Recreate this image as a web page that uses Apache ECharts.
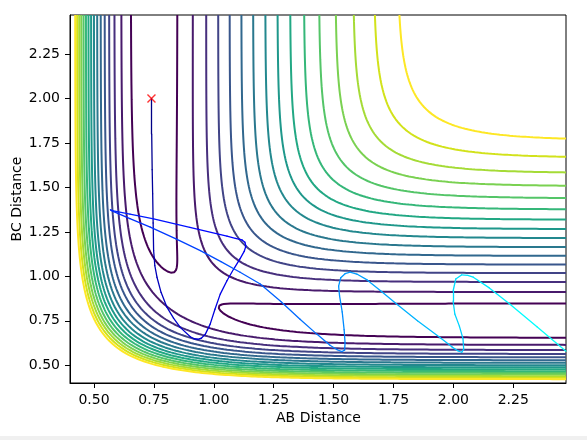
<!DOCTYPE html>
<html>
<head>
<meta charset="utf-8">
<script src="https://cdn.jsdelivr.net/npm/echarts/dist/echarts.min.js"></script>
<style>
html, body { margin: 0; padding: 0; background: #fff; }
#chart { width: 587px; height: 440px; }
</style>
</head>
<body>
<div id="chart"></div>
<script>
var DE = 4.746, BETA = 1.942, RE = 0.742, SATO = 0.19;
var AXIS_MIN = 0.4, AXIS_MAX = 2.47;
var GRID_STEPS = 300;
var X_TICKS = [0.5, 0.75, 1.0, 1.25, 1.5, 1.75, 2.0, 2.25];
var Y_TICKS = [0.5, 0.75, 1.0, 1.25, 1.5, 1.75, 2.0, 2.25];
var LEVELS = [-4.580, -4.367, -4.144, -3.926, -3.709, -3.484, -3.260, -3.032,
	-2.812, -2.593, -2.366, -2.136, -1.905, -1.679, -1.444, -1.210];
var LEVEL_COLORS = ['#440154', '#481a6c', '#472f7d', '#414487', '#39568c', '#31688e', '#2a788e', '#23888e',
	'#1f988b', '#22a884', '#35b779', '#54c568', '#7ad151', '#a5db36', '#d2e21b', '#fde725'];

// trajectory, AB and BC distances
var TRAJ_AB = [0.740, 0.741, 0.743, 0.745, 0.747, 0.749, 0.754, 0.763, 0.780, 0.805, 0.832, 0.860, 0.902, 0.918, 0.932,
	0.948, 0.965, 0.985, 1.005, 1.027, 1.055, 1.083, 1.110, 1.127, 1.134, 1.130, 1.118, 1.090, 1.055, 0.900,
	0.749, 0.650, 0.576, 0.569, 0.580, 0.650, 0.735, 0.840, 0.944, 1.030, 1.110, 1.194, 1.280, 1.360, 1.430,
	1.485, 1.515, 1.535, 1.546, 1.548, 1.544, 1.536, 1.525, 1.521, 1.530, 1.548, 1.569, 1.597, 1.640, 1.700,
	1.763, 1.850, 1.944, 1.995, 2.020, 2.035, 2.043, 2.040, 2.025, 2.006, 1.999, 1.999, 2.010, 2.034, 2.060,
	2.083, 2.150, 2.235, 2.350, 2.470];
var TRAJ_BC = [2.000, 1.800, 1.600, 1.464, 1.300, 1.145, 1.060, 0.995, 0.910, 0.825, 0.765, 0.713, 0.660, 0.649, 0.646,
	0.652, 0.675, 0.731, 0.815, 0.900, 0.975, 1.041, 1.100, 1.140, 1.170, 1.192, 1.205, 1.214, 1.226, 1.275,
	1.323, 1.350, 1.370, 1.374, 1.365, 1.325, 1.277, 1.212, 1.145, 1.083, 1.023, 0.957, 0.858, 0.759, 0.675,
	0.612, 0.587, 0.577, 0.585, 0.625, 0.700, 0.800, 0.890, 0.945, 0.992, 1.015, 1.023, 1.013, 0.980, 0.915,
	0.844, 0.750, 0.656, 0.602, 0.580, 0.573, 0.590, 0.650, 0.720, 0.788, 0.860, 0.919, 0.985, 1.008, 1.005,
	0.995, 0.935, 0.844, 0.715, 0.579];
var START_POINT = [0.74, 2.0];

function coulombExchange(r) {
	var e1 = Math.exp(-BETA * (r - RE)), e2 = e1 * e1;
	var q = DE / 4 * ((3 + SATO) * e2 - (2 + 6 * SATO) * e1);
	var j = DE / 4 * ((1 + 3 * SATO) * e2 - (6 + 2 * SATO) * e1);
	return [q, j];
}

function leps(rAB, rBC) {
	var a = coulombExchange(rAB), b = coulombExchange(rBC), c = coulombExchange(rAB + rBC);
	var jj = 0.5 * ((a[1] - b[1]) * (a[1] - b[1]) + (b[1] - c[1]) * (b[1] - c[1]) + (c[1] - a[1]) * (c[1] - a[1]));
	return (a[0] + b[0] + c[0] - Math.sqrt(jj)) / (1 + SATO);
}

/** marching squares, returns a list of polylines for one level */
function contourLines(pXs, pYs, pValues, pLevel) {
	var points = {};
	var segments = [];
	var edgePoint = function (key, x1, y1, v1, x2, y2, v2) {
		if (!points[key]) {
			var t = (pLevel - v1) / (v2 - v1);
			points[key] = [x1 + t * (x2 - x1), y1 + t * (y2 - y1)];
		}
		return key;
	};
	for (var j = 0; j < pYs.length - 1; j++) {
		for (var i = 0; i < pXs.length - 1; i++) {
			var v00 = pValues[j][i], v10 = pValues[j][i + 1], v11 = pValues[j + 1][i + 1], v01 = pValues[j + 1][i];
			var c = (v00 > pLevel ? 1 : 0) | (v10 > pLevel ? 2 : 0) | (v11 > pLevel ? 4 : 0) | (v01 > pLevel ? 8 : 0);
			if (c === 0 || c === 15) continue;
			var x0 = pXs[i], x1 = pXs[i + 1], y0 = pYs[j], y1 = pYs[j + 1];
			var e = function (n) {
				switch (n) {
					case 0: return edgePoint('h' + i + '_' + j, x0, y0, v00, x1, y0, v10);
					case 1: return edgePoint('v' + (i + 1) + '_' + j, x1, y0, v10, x1, y1, v11);
					case 2: return edgePoint('h' + i + '_' + (j + 1), x0, y1, v01, x1, y1, v11);
					case 3: return edgePoint('v' + i + '_' + j, x0, y0, v00, x0, y1, v01);
				}
			};
			var center = (v00 + v10 + v11 + v01) / 4 > pLevel;
			var pairs;
			switch (c) {
				case 1: case 14: pairs = [[3, 0]]; break;
				case 2: case 13: pairs = [[0, 1]]; break;
				case 3: case 12: pairs = [[3, 1]]; break;
				case 4: case 11: pairs = [[1, 2]]; break;
				case 6: case 9: pairs = [[0, 2]]; break;
				case 7: case 8: pairs = [[3, 2]]; break;
				case 5: pairs = center ? [[0, 1], [2, 3]] : [[3, 0], [1, 2]]; break;
				case 10: pairs = center ? [[3, 0], [1, 2]] : [[0, 1], [2, 3]]; break;
			}
			pairs.forEach(function (p) { segments.push([e(p[0]), e(p[1])]); });
		}
	}
	// join the segments into polylines
	var byKey = {};
	segments.forEach(function (s, idx) {
		(byKey[s[0]] = byKey[s[0]] || []).push(idx);
		(byKey[s[1]] = byKey[s[1]] || []).push(idx);
	});
	var used = new Array(segments.length).fill(false);
	var next = function (key) {
		var list = byKey[key];
		for (var k = 0; k < list.length; k++) {
			if (!used[list[k]]) return list[k];
		}
		return -1;
	};
	var result = [];
	for (var s = 0; s < segments.length; s++) {
		if (used[s]) continue;
		used[s] = true;
		var chain = [segments[s][0], segments[s][1]];
		var n;
		while ((n = next(chain[chain.length - 1])) >= 0) {
			used[n] = true;
			chain.push(segments[n][0] === chain[chain.length - 1] ? segments[n][1] : segments[n][0]);
		}
		while ((n = next(chain[0])) >= 0) {
			used[n] = true;
			chain.unshift(segments[n][0] === chain[0] ? segments[n][1] : segments[n][0]);
		}
		result.push(chain.map(function (k) { return points[k]; }));
	}
	return result;
}

function jet(t) {
	var clip = function (v) { return Math.max(0, Math.min(1, v)); };
	var r = clip(1.5 - Math.abs(4 * t - 3)), g = clip(1.5 - Math.abs(4 * t - 2)), b = clip(1.5 - Math.abs(4 * t - 1));
	return 'rgb(' + Math.round(r * 255) + ',' + Math.round(g * 255) + ',' + Math.round(b * 255) + ')';
}

function buildSeries() {
	var xs = [], ys = [];
	for (var i = 0; i <= GRID_STEPS; i++) {
		xs.push(AXIS_MIN + (AXIS_MAX - AXIS_MIN) * i / GRID_STEPS);
		ys.push(AXIS_MIN + (AXIS_MAX - AXIS_MIN) * i / GRID_STEPS);
	}
	var values = ys.map(function (y) { return xs.map(function (x) { return leps(x, y); }); });
	var series = [];
	LEVELS.forEach(function (level, idx) {
		contourLines(xs, ys, values, level).forEach(function (line) {
			series.push({
				type: 'line', data: line, showSymbol: false, symbol: 'none', silent: true, animation: false, z: 2,
				lineStyle: { color: LEVEL_COLORS[idx], width: 2 }
			});
		});
	});
	// trajectory, coloured along its length
	var lengths = [0];
	for (var k = 1; k < TRAJ_AB.length; k++) {
		var dx = (TRAJ_AB[k] - TRAJ_AB[k - 1]) * 240, dy = (TRAJ_BC[k] - TRAJ_BC[k - 1]) * 177;
		lengths.push(lengths[k - 1] + Math.sqrt(dx * dx + dy * dy));
	}
	var total = lengths[lengths.length - 1];
	var segs = [];
	for (k = 1; k < TRAJ_AB.length; k++) {
		segs.push({
			coords: [[TRAJ_AB[k - 1], TRAJ_BC[k - 1]], [TRAJ_AB[k], TRAJ_BC[k]]],
			lineStyle: { color: jet(0.39 * (lengths[k - 1] + lengths[k]) / 2 / total) }
		});
	}
	series.push({
		type: 'lines', coordinateSystem: 'cartesian2d', data: segs, silent: true, animation: false, z: 3, clip: true,
		lineStyle: { width: 1.3, opacity: 1, curveness: 0, cap: 'round' }
	});
	series.push({
		type: 'scatter', data: [START_POINT], symbol: 'path://M0,0L10,10M10,0L0,10', symbolSize: 8,
		silent: true, animation: false, z: 4,
		itemStyle: { color: 'transparent', borderColor: '#ff0000', borderWidth: 1.4 }
	});
	return series;
}

function axis(pTicks) {
	return {
		type: 'value', min: AXIS_MIN, max: AXIS_MAX,
		splitLine: { show: false },
		axisLine: { show: true, onZero: false, lineStyle: { color: '#000', width: 1 } },
		axisTick: { show: true, inside: false, length: 5, lineStyle: { color: '#000', width: 1 }, customValues: pTicks },
		axisLabel: {
			customValues: pTicks, color: '#000', fontSize: 14, fontFamily: 'DejaVu Sans', margin: 10,
			formatter: function (v) { return v.toFixed(2); }
		}
	};
}

var chart = echarts.init(document.getElementById('chart'), null, { renderer: 'canvas' });
chart.setOption({
	animation: false,
	grid: { left: 70, right: 21, top: 15, bottom: 57, show: true, borderColor: '#000', borderWidth: 1, backgroundColor: 'transparent' },
	xAxis: axis(X_TICKS),
	yAxis: axis(Y_TICKS),
	series: buildSeries(),
	graphic: [
		{ type: 'text', left: 276, top: 411, style: { text: 'AB Distance', fontSize: 14, fontFamily: 'DejaVu Sans', fill: '#000' } },
		{ type: 'text', x: 17, y: 199, rotation: Math.PI / 2, style: { text: 'BC Distance', fontSize: 14, fontFamily: 'DejaVu Sans', fill: '#000', align: 'center', verticalAlign: 'middle' } },
		{ type: 'rect', shape: { x: 0, y: 436, width: 587, height: 4 }, style: { fill: '#f0f0f0' } }
	]
});
</script>
</body>
</html>
